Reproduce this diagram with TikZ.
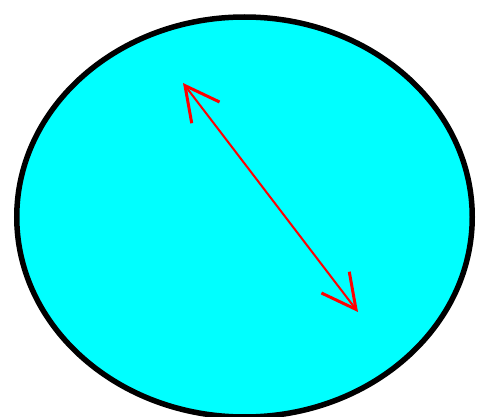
\documentclass[tikz,border=0pt]{standalone}
\usetikzlibrary{arrows.meta}
\definecolor{fillcyan}{RGB}{0,255,255}
\definecolor{arrowred}{RGB}{255,0,0}
\begin{document}
\begin{tikzpicture}[x=1pt,y=1pt,
  blob/.style={draw=black,fill=fillcyan,line width=5.5pt},
  twoway/.style={draw=arrowred,line width=2pt,
    {Straight Barb[length=34pt,width=35pt,line width=3pt]}-{Straight Barb[length=34pt,width=35pt,line width=3pt]}}]
\useasboundingbox (0,0) rectangle (477,416);
\path[blob] (244.5,199) ellipse [x radius=227.75, y radius=200];
\coordinate (p) at (183,333);
\coordinate (q) at (358,104);
\draw[twoway] (p) -- (q);
\end{tikzpicture}
\end{document}
